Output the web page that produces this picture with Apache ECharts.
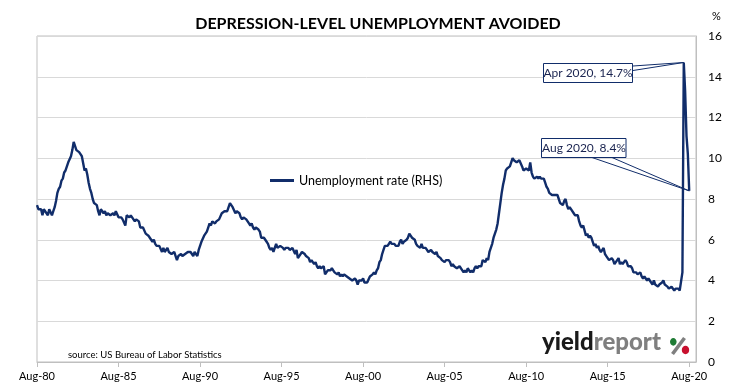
<!DOCTYPE html>
<html><head><meta charset="utf-8">
<script src="https://cdn.jsdelivr.net/npm/echarts@6/dist/echarts.min.js"></script>
<style>html,body{margin:0;padding:0;background:#fff}#c{width:730px;height:389px}</style>
</head><body><div id="c"></div><script>
// US unemployment rate, %, monthly (seasonally adjusted), Aug 1980 - Aug 2020
const rate1980s = [
7.7,7.5,7.5,7.5,7.2,
7.5,7.4,7.4,7.2,7.5,7.5,7.2,7.4,7.6,7.9,8.3,8.5,
8.6,8.9,9.0,9.3,9.4,9.6,9.8,9.8,10.1,10.4,10.8,10.8,
10.4,10.4,10.3,10.2,10.1,10.1,9.4,9.5,9.2,8.8,8.5,8.3,
8.0,7.8,7.8,7.7,7.4,7.2,7.5,7.5,7.3,7.4,7.2,7.3,
7.3,7.2,7.2,7.3,7.2,7.4,7.4,7.1,7.1,7.1,7.0,7.0,
6.7,7.2,7.2,7.1,7.2,7.2,7.0,6.9,7.0,7.0,6.9,6.6,
6.6,6.6,6.6,6.3,6.3,6.2,6.1,6.0,5.9,6.0,5.8,5.7,
5.7,5.7,5.7,5.4,5.6,5.4,5.4,5.6,5.4,5.4,5.3,5.3,
5.4,5.2,5.0,5.2,5.2,5.3,5.2,5.2,5.3,5.3,5.4,5.4];
const rate1990s = [
5.4,5.3,5.2,5.4,5.4,5.2,5.5,5.7,5.9,5.9,6.2,6.3,
6.4,6.6,6.8,6.7,6.9,6.9,6.8,6.9,6.9,7.0,7.0,7.3,
7.3,7.4,7.4,7.4,7.6,7.8,7.7,7.6,7.6,7.3,7.4,7.4,
7.3,7.1,7.0,7.1,7.1,7.0,6.9,6.8,6.7,6.8,6.6,6.5,
6.6,6.6,6.5,6.4,6.1,6.1,6.1,6.0,5.9,5.8,5.6,5.5,
5.6,5.4,5.4,5.8,5.6,5.6,5.7,5.7,5.6,5.5,5.6,5.6,
5.6,5.5,5.5,5.6,5.6,5.3,5.5,5.1,5.2,5.2,5.4,5.4,
5.3,5.2,5.2,5.1,4.9,5.0,4.9,4.8,4.9,4.7,4.6,4.7,
4.6,4.6,4.7,4.3,4.4,4.5,4.5,4.5,4.6,4.5,4.4,4.4,
4.3,4.4,4.2,4.3,4.2,4.3,4.3,4.2,4.2,4.1,4.1,4.0];
const rate2000s = [
4.0,4.1,4.0,3.8,4.0,4.0,4.0,4.1,3.9,3.9,3.9,3.9,
4.2,4.2,4.3,4.4,4.3,4.5,4.6,4.9,5.0,5.3,5.5,5.7,
5.7,5.7,5.7,5.9,5.8,5.8,5.8,5.7,5.7,5.7,5.9,6.0,
5.8,5.9,5.9,6.0,6.1,6.3,6.2,6.1,6.1,6.0,5.8,5.7,
5.7,5.6,5.8,5.6,5.6,5.6,5.5,5.4,5.4,5.5,5.4,5.4,
5.3,5.4,5.2,5.2,5.1,5.0,5.0,4.9,5.0,5.0,5.0,4.9,
4.7,4.8,4.7,4.7,4.6,4.6,4.7,4.7,4.5,4.4,4.5,4.4,
4.6,4.5,4.4,4.5,4.4,4.6,4.7,4.6,4.7,4.7,4.7,5.0,
5.0,4.9,5.1,5.0,5.4,5.6,5.8,6.1,6.1,6.5,6.8,7.3,
7.8,8.3,8.7,9.0,9.4,9.5,9.5,9.6,9.8,10.0,9.9,9.9];
const rate2010s = [
9.8,9.8,9.9,9.9,9.6,9.4,9.4,9.5,9.5,9.4,9.8,9.3,
9.1,9.0,9.0,9.1,9.0,9.1,9.0,9.0,9.0,8.8,8.6,8.5,
8.3,8.3,8.2,8.2,8.2,8.2,8.2,8.0,7.8,7.8,7.7,7.9,
8.0,7.7,7.5,7.6,7.5,7.5,7.3,7.2,7.2,7.2,6.9,6.7,
6.6,6.7,6.7,6.2,6.3,6.1,6.2,6.1,5.9,5.7,5.8,5.6,
5.7,5.5,5.4,5.4,5.6,5.3,5.2,5.1,5.0,5.0,5.1,5.0,
4.8,4.9,5.0,5.1,4.8,4.9,4.8,4.9,5.0,4.9,4.7,4.7,
4.7,4.6,4.4,4.4,4.4,4.3,4.3,4.4,4.2,4.1,4.2,4.1,
4.0,4.1,4.0,4.0,3.8,4.0,3.8,3.8,3.7,3.8,3.8,3.9,
4.0,3.8,3.8,3.7,3.6,3.6,3.7,3.6,3.5,3.6,3.6,3.6];
const rate2020 = [3.5,3.5,4.4,14.7,13.3,11.1,10.2,8.4];

const monthNames = ['Jan','Feb','Mar','Apr','May','Jun','Jul','Aug','Sep','Oct','Nov','Dec'];
const startYear = 1980, startMonth = 7;   // Aug 1980
const axisMonths = 486;                   // axis runs a few months past Aug 2020
const yTicks = [0,2,4,6,8,10,12,14,16];
const seriesName = 'Unemployment rate (RHS)';
const notes = [
  {label:'Apr 2020, 14.7%', month:'Apr-20', value:14.7},
  {label:'Aug 2020, 8.4%', month:'Aug-20', value:8.4}
];

const rates = [].concat(rate1980s, rate1990s, rate2000s, rate2010s, rate2020);
const months = [];
for (let i = 0; i < axisMonths; i++) {
  const m = startMonth + i;
  const y = (startYear + Math.floor(m / 12)) % 100;
  months.push(monthNames[m % 12] + '-' + String(y).padStart(2, '0'));
}

const NAVY = '#112d6a';
const FONT = 'Lato, "Liberation Sans", sans-serif';
const chart = echarts.init(document.getElementById('c'), null, {renderer:'canvas'});
chart.setOption({
  animation:false,
  textStyle:{fontFamily:FONT},
  title:{text:'DEPRESSION-LEVEL UNEMPLOYMENT AVOIDED', left:373, textAlign:'center', top:11,
    textStyle:{fontSize:16, fontWeight:'bold', color:'#000', fontFamily:FONT}},
  grid:{left:37, right:34, top:36, bottom:27, show:true, borderColor:'#bfbfbf', borderWidth:1},
  legend:{left:265, top:169, icon:'rect', itemWidth:24, itemHeight:3, itemGap:6,
    textStyle:{fontSize:12.5, color:'#000', fontFamily:FONT}, data:[seriesName]},
  xAxis:{type:'category', boundaryGap:false, data:months,
    axisLine:{lineStyle:{color:'#bfbfbf'}},
    axisTick:{interval:59, length:5, lineStyle:{color:'#bfbfbf'}},
    axisLabel:{interval:59, color:'#000', fontSize:11, margin:9}},
  yAxis:{type:'value', position:'right', min:yTicks[0], max:yTicks[yTicks.length-1], interval:2,
    name:'%', nameLocation:'end', nameGap:14,
    nameTextStyle:{align:'left', padding:[0,0,0,16], color:'#000', fontSize:11},
    axisLine:{show:true, lineStyle:{color:'#bfbfbf'}}, axisTick:{show:false},
    axisLabel:{color:'#000', fontSize:12, margin:12},
    splitLine:{lineStyle:{color:'#d9d9d9'}}},
  series:[{name:seriesName, type:'line', data:rates, symbol:'none', showSymbol:false,
    lineStyle:{color:NAVY, width:2.4}, itemStyle:{color:NAVY}}]
});

function pt(n){ return chart.convertToPixel({xAxisIndex:0, yAxisIndex:0}, [n.month, n.value]); }
const a = pt(notes[0]), b = pt(notes[1]);
chart.setOption({graphic:[
  {type:'polyline', z:10, shape:{points:[[633,66],a,[633,70.5]]}, style:{stroke:NAVY, fill:null, lineWidth:1}},
  {type:'rect', z:11, shape:{x:543.5, y:63.5, width:89, height:19}, style:{fill:'#fff', stroke:NAVY, lineWidth:1}},
  {type:'text', z:12, x:588, y:73.5, style:{text:notes[0].label, align:'center', verticalAlign:'middle', font:'12px '+FONT, fill:'#1a2450'}},
  {type:'polyline', z:10, shape:{points:[[592,157.5],b,[612,157.5]]}, style:{stroke:NAVY, fill:null, lineWidth:1}},
  {type:'rect', z:11, shape:{x:541.5, y:138.5, width:84.5, height:19}, style:{fill:'#fff', stroke:NAVY, lineWidth:1}},
  {type:'text', z:12, x:584, y:148.5, style:{text:notes[1].label, align:'center', verticalAlign:'middle', font:'12px '+FONT, fill:'#1a2450'}},
  {type:'text', z:12, x:68, y:355, style:{text:'source: US Bureau of Labor Statistics', verticalAlign:'middle', font:'9.5px '+FONT, fill:'#000'}},
  {type:'text', z:12, x:542, y:354, style:{text:'{a|yield}{b|report}', verticalAlign:'bottom',
     rich:{a:{font:'900 24px '+FONT, fill:'#1a1a1a'}, b:{font:'900 24px '+FONT, fill:'#7f7f7f'}}}},
  {type:'line', z:12, shape:{x1:672.5, y1:354, x2:684.5, y2:338}, style:{stroke:'#7f7f7f', lineWidth:3.6}},
  {type:'ellipse', z:13, shape:{cx:673.3, cy:341.8, rx:3.3, ry:3.9}, style:{fill:'#1e7b34'}},
  {type:'ellipse', z:13, shape:{cx:685.5, cy:350, rx:3.7, ry:4.2}, style:{fill:'#c8102e'}}
]});
</script></body></html>
